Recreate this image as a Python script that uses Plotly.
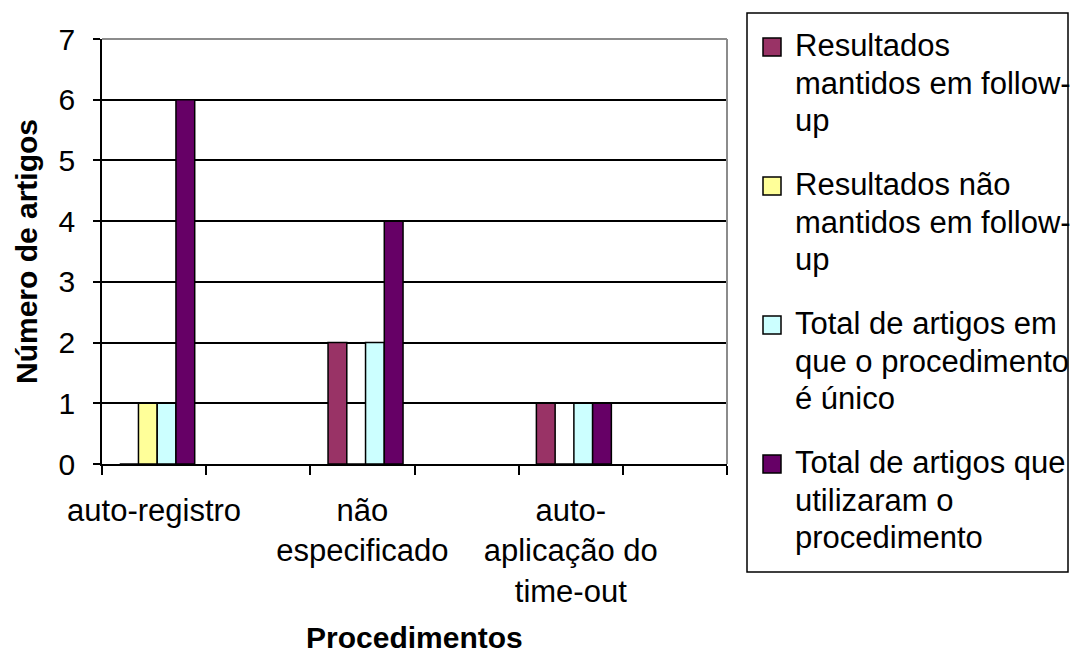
import plotly.graph_objects as go

# Procedimentos (cada um ocupa uma faixa, alternando com faixas vazias)
categorias = ["auto-registro", "não<br>especificado", "auto-<br>aplicação do<br>time-out"]
posicoes = [2 * i for i in range(len(categorias))]

series = [
    "Resultados<br>mantidos em follow-<br>up",
    "Resultados não<br>mantidos em follow-<br>up",
    "Total de artigos em<br>que o procedimento<br>é único",
    "Total de artigos que<br>utilizaram o<br>procedimento",
]
mantidos = [0, 2, 1]
nao_mantidos = [1, 0, 0]
unico = [1, 2, 1]
utilizaram = [6, 4, 1]

cores = ["#993366", "#FFFF99", "#CCFFFF", "#660066"]
y_ticks = [0, 1, 2, 3, 4, 5, 6, 7]

FONTE = "Liberation Sans, Arial, sans-serif"
W, H = 1070, 655
ML, MR, MT, MB = 102, 343, 39, 191
largura = 0.18
desloc0 = -0.33

fig = go.Figure()
for i, (nome, vals, cor) in enumerate(zip(series, [mantidos, nao_mantidos, unico, utilizaram], cores)):
    fig.add_bar(
        x=posicoes, y=vals, name=nome.replace("<br>", " "),
        width=largura, offset=desloc0 + i * largura,
        marker=dict(color=cor, line=dict(color="black", width=1.5)),
        showlegend=False,
    )

limites = [p - 0.5 for p in range(0, 2 * len(categorias) + 1)]


# conversao de pixels da pagina para coordenadas "paper"
def px(xp):
    return (xp - ML) / (W - ML - MR)


def py(yp):
    return (H - MB - yp) / (H - MT - MB)


# legenda desenhada a mao: caixa, quadrados e linhas de texto
shapes = [
    dict(type="line", xref="paper", yref="paper", x0=0, x1=1, y0=1, y1=1,
         line=dict(color="#8c8c8c", width=2), layer="above"),
    dict(type="line", xref="paper", yref="paper", x0=1, x1=1, y0=0, y1=1,
         line=dict(color="#8c8c8c", width=2), layer="above"),
    dict(type="rect", xref="paper", yref="paper",
         x0=px(747), x1=px(1068), y0=py(572), y1=py(13),
         line=dict(color="black", width=1.5), fillcolor="white", layer="below"),
]
annotations = []
base0, passo_item, passo_linha = 56, 139, 37.7
for k, (nome, cor) in enumerate(zip(series, cores)):
    b = base0 + passo_item * k
    shapes.append(dict(
        type="rect", xref="paper", yref="paper",
        x0=px(763), x1=px(781), y0=py(b), y1=py(b - 18),
        fillcolor=cor, line=dict(color="black", width=1.5), layer="above",
    ))
    for j, linha in enumerate(nome.split("<br>")):
        annotations.append(dict(
            xref="paper", yref="paper", x=px(793), y=py(b + passo_linha * j - 10.5),
            xanchor="left", yanchor="middle", showarrow=False, text=linha,
            font=dict(size=31, family=FONTE, color="black"),
        ))

# titulo do eixo x, logo abaixo dos rotulos de categoria
annotations.append(dict(
    xref="paper", yref="paper", x=0.5, y=py(637.5),
    xanchor="center", yanchor="middle", showarrow=False,
    text="<b>Procedimentos</b>", font=dict(size=30, family=FONTE, color="black"),
))

fig.update_layout(
    width=W, height=H,
    margin=dict(l=ML, r=MR, t=MT, b=MB),
    paper_bgcolor="white", plot_bgcolor="white",
    barmode="overlay",
    font=dict(family=FONTE, size=30, color="black"),
    showlegend=False,
    xaxis=dict(
        range=[-0.5, 2 * len(categorias) - 0.5],
        tickvals=posicoes, ticktext=categorias,
        ticks="", showgrid=False, zeroline=False,
        showline=True, linecolor="black", linewidth=1.5,
        ticklabelstandoff=18,
        tickfont=dict(size=31),
        minor=dict(tickvals=limites, ticks="outside", ticklen=9,
                   tickcolor="black", tickwidth=1.5, showgrid=False),
        automargin=False,
        fixedrange=True,
    ),
    yaxis=dict(
        range=[0, 7], tickvals=y_ticks,
        ticks="outside", ticklen=7, tickcolor="black", tickwidth=1.5,
        showgrid=True, gridcolor="black", gridwidth=1.5,
        zeroline=False, showline=True, linecolor="black", linewidth=1.5,
        ticklabelstandoff=12,
        title=dict(text="<b>Número de artigos</b>", standoff=12,
                   font=dict(size=30, family=FONTE)),
        automargin=False,
        fixedrange=True,
    ),
    shapes=shapes,
    annotations=annotations,
)

fig.write_html("out.html")
